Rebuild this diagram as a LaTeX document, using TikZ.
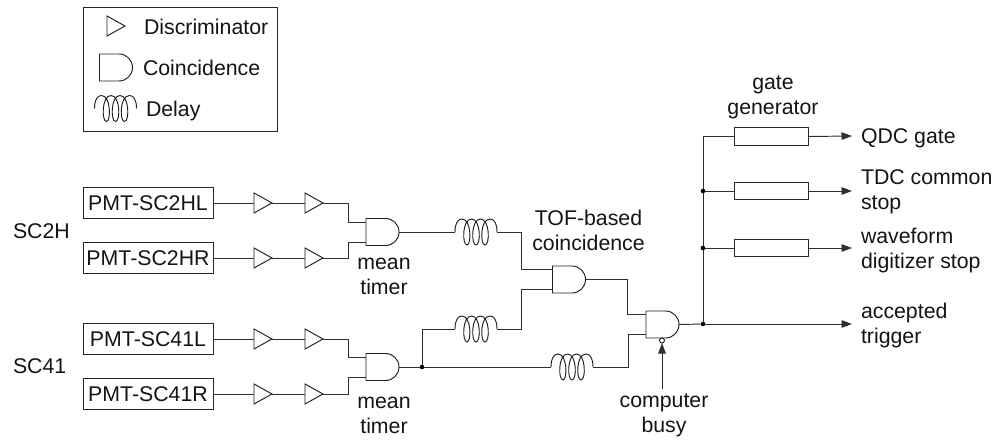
\documentclass[tikz,border=0pt]{standalone}
\usepackage{fontspec}
\setmainfont{Liberation Sans}
\usetikzlibrary{arrows.meta,calc}
\newcommand\mkand[3]{%
  \node[gatebox] (#1) at (#2,#3) {};
  \draw[symb,shift={(#2,#3)}] (-16.5,-13.5) -- (3,-13.5) .. controls (10.46,-13.5) and (16.5,-7.46) .. (16.5,0) .. controls (16.5,7.46) and (10.46,13.5) .. (3,13.5) -- (-16.5,13.5) -- cycle;
  \coordinate (#1-a) at (#2-16.5,#3-10);
  \coordinate (#1-b) at (#2-16.5,#3+10);
}
\newcommand\mktri[3]{%
  \node[tribox] (#1) at (#2,#3) {};
  \draw[symb,shift={(#2,#3)}] (-9,-10) -- (9,0) -- (-9,10) -- cycle;
}
\newcommand\mkcoil[3]{%
  \node[coilbox] (#1) at (#2,#3) {};
  \draw[symb,shift={(#2-21,#3)}] (0,0) .. controls (0,-9) and (3,-13) .. (7,-13)
    .. controls (16.5,-13) and (16.5,13) .. (12,13)
    .. controls (7,13) and (7,-13) .. (16.5,-13)
    .. controls (26,-13) and (26,13) .. (21,13)
    .. controls (16,13) and (16,-13) .. (25.5,-13)
    .. controls (35,-13) and (35,13) .. (30,13)
    .. controls (25,13) and (25,-13) .. (35,-13)
    .. controls (39,-13) and (42,-9) .. (42,0);
}
\tikzset{
  wire/.style={line width=0.95pt,draw=black!82},
  symb/.style={line width=0.95pt,draw=black!88},
  arr/.style={wire,-{Triangle[length=10.5pt,width=7.5pt]}},
  gatebox/.style={inner sep=0pt,outer sep=0pt,minimum width=33pt,minimum height=27pt},
  tribox/.style={inner sep=0pt,outer sep=0pt,minimum width=18pt,minimum height=20pt},
  coilbox/.style={inner sep=0pt,outer sep=0pt,minimum width=42pt,minimum height=26pt},
  pmt/.style={draw=black!85,line width=0.95pt,inner sep=0pt,outer sep=0pt,minimum width=130pt,minimum height=31.5pt},
  gen/.style={draw=black!85,line width=0.95pt,inner sep=0pt,outer sep=0pt,minimum width=74pt,minimum height=17.5pt},
  dot/.style={circle,fill=black,inner sep=0pt,outer sep=0pt,minimum size=4.6pt},
  lbl/.style={inner sep=0pt,outer sep=0pt,font=\fontsize{21.3}{25}\selectfont,text=black!92},
  cl/.style={lbl,align=center},
  ll/.style={lbl,align=left,anchor=west},
}
\begin{document}
\begin{tikzpicture}[x=1pt,y=-1pt]
\useasboundingbox (0,0) rectangle (998,441);
% legend
\node[draw=black!85,line width=0.95pt,inner sep=0pt,outer sep=0pt,minimum width=194pt,minimum height=124pt] (legend) at (180,69) {};
\mktri{ltri}{116}{26}
\mkand{land}{116}{67.5}
\mkcoil{lcoil}{115.5}{108.5}
\node[ll] (ltxt1) at (144,27) {Discriminator};
\node[ll] (ltxt2) at (143,68) {Coincidence};
\node[ll] (ltxt3) at (146,110.5) {Delay};
% PMTs
\node[pmt,lbl] (b1) at (148,203) {PMT-SC2HL};
\node[pmt,lbl] (b2) at (148,258) {PMT-SC2HR};
\node[pmt,lbl] (b3) at (148,339) {PMT-SC41L};
\node[pmt,lbl] (b4) at (148,394) {PMT-SC41R};
\mktri{ta1}{263}{203}\mktri{ta2}{314}{203}
\mktri{tb1}{263}{258}\mktri{tb2}{314}{258}
\mktri{tc1}{263}{339}\mktri{tc2}{314}{339}
\mktri{td1}{263}{394}\mktri{td2}{314}{394}
\mkand{g1}{382.5}{232}
\mkand{g4}{382.5}{367}
\mkand{g2}{569}{279.5}
\mkand{g3}{662.5}{324.5}
\mkcoil{c1}{476}{232}
\mkcoil{c2}{476}{329}
\mkcoil{c3}{572}{367}
\node[dot] (j1) at (422,367) {};
\node[dot] (j2) at (703,191) {};
\node[dot] (j3) at (703,248) {};
\node[dot] (j4) at (703,324) {};
\node[gen] (r1) at (771,136.5) {};
\node[gen] (r2) at (771,191) {};
\node[gen] (r3) at (771,248) {};
\node[circle,draw=black!88,line width=0.95pt,fill=white,inner sep=0pt,outer sep=0pt,minimum size=5pt] (bub) at (662,340.5) {};
\coordinate (e1) at (852,136);
\coordinate (e2) at (852,191);
\coordinate (e3) at (852,248);
\coordinate (e4) at (852,324);
\coordinate (busyfoot) at (662,389);
% wires
\draw[wire] (b1.east) -- (ta1.west) (ta1.east) -- (ta2.west);
\draw[wire] (b2.east) -- (tb1.west) (tb1.east) -- (tb2.west);
\draw[wire] (b3.east) -- (tc1.west) (tc1.east) -- (tc2.west);
\draw[wire] (b4.east) -- (td1.west) (td1.east) -- (td2.west);
\draw[wire] (ta2.east) -- ++(25,0) |- (g1-a);
\draw[wire] (tb2.east) -- ++(25,0) |- (g1-b);
\draw[wire] (tc2.east) -- ++(25,0) |- (g4-a);
\draw[wire] (td2.east) -- ++(25,0) |- (g4-b);
\draw[wire] (g1.east) -- (c1.west);
\draw[wire] (c1.east) -- ++(24,0) |- (g2-a);
\draw[wire] (g4.east) -- (j1) -- (c3.west);
\draw[wire] (j1) |- (c2.west);
\draw[wire] (c2.east) -- ++(24,0) |- (g2-b);
\draw[wire] (g2.east) -- ++(42,0) |- (g3-a);
\draw[wire] (c3.east) -- ++(35,0) |- (g3-b);
\draw[wire] (g3.east) -- (j4);
\draw[wire] (j4) -- (j3) -- (j2) |- (r1.west);
\draw[wire] (j2) -- (r2.west);
\draw[wire] (j3) -- (r3.west);
\draw[arr] (r1.east) -- (e1);
\draw[arr] (r2.east) -- (e2);
\draw[arr] (r3.east) -- (e3);
\draw[arr] (j4) -- (e4);
\draw[arr] (busyfoot) -- (bub.south);
% labels
\node[lbl,anchor=west] (s1) at (13,231.5) {SC2H};
\node[lbl,anchor=west] (s2) at (13,366.5) {SC41};
\node[cl] (m1) at (384,276.5) {mean\\timer};
\node[cl] (m2) at (384,415.5) {mean\\timer};
\node[cl] (tof) at (588.5,230) {TOF-based\\coincidence};
\node[cl] (gg) at (773,97) {gate\\generator};
\node[ll] (o1) at (861,138) {QDC gate};
\node[ll] (o2) at (861,192) {TDC common\\stop};
\node[ll] (o3) at (861,250.5) {waveform\\digitizer stop};
\node[ll] (o4) at (861,325) {accepted\\trigger};
\node[cl] (busy) at (664,415) {computer\\busy};
\end{tikzpicture}
\end{document}
